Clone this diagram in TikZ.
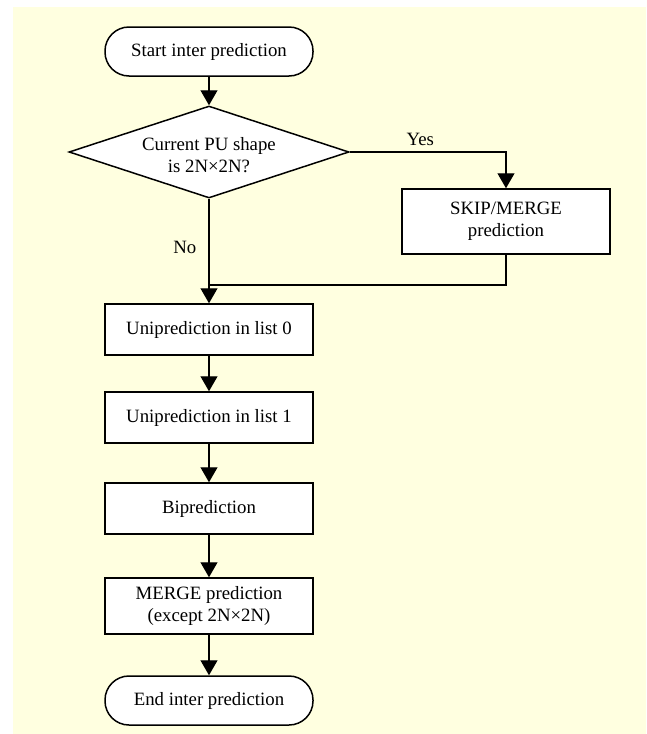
\documentclass[tikz,border=0pt]{standalone}
\usepackage{fontspec}
\setmainfont{Liberation Serif}
\usetikzlibrary{shapes.geometric,arrows.meta}
\definecolor{bgyellow}{RGB}{255,255,224}
\begin{document}
\begin{tikzpicture}[x=1pt,y=-1pt,
  txt/.style={font=\fontsize{18.8}{22}\selectfont, align=center},
  procbox/.style={txt, draw, fill=white, line width=1.5pt, rectangle, minimum width=208pt, inner sep=0pt},
  termbox/.style={procbox, rounded corners=24pt, minimum height=49pt},
  decbox/.style={draw, fill=white, line width=1.5pt, diamond, minimum width=280pt, minimum height=92pt, inner sep=0pt},
  conn/.style={line width=1.2pt},
  arr/.style={conn, -{Triangle[length=15pt,width=17pt]}},
  lbl/.style={txt, inner sep=0pt}
]
\fill[bgyellow] (13,7) rectangle (646,734);
\useasboundingbox (0,0) rectangle (646,734);

\node[termbox] (start) at (209,51.5) {Start inter prediction};
\node[decbox] (dia) at (209,152) {};
\node[lbl] (diatext) at (209,155) {Current PU shape\\is 2N×2N?};
\node[procbox, minimum height=65pt] (skip) at (506,221.5) {SKIP/MERGE\\prediction};
\coordinate (j) at (209,285);
\node[procbox, minimum height=51pt] (uni0) at (209,329.5) {Uniprediction in list 0};
\node[procbox, minimum height=51pt] (uni1) at (209,417.5) {Uniprediction in list 1};
\node[procbox, minimum height=51pt] (bi) at (209,508.5) {Biprediction};
\node[procbox, minimum height=56pt] (merge) at (209,606) {MERGE prediction\\(except 2N×2N)};
\node[termbox] (end) at (209,700.5) {End inter prediction};

\draw[arr] (start.south) -- (dia.north);
\draw[arr] (dia.east) -| (skip.north) node[lbl, pos=0.226, above=6pt, name=yes] {Yes};
\draw[conn] (skip.south) |- (j);
\draw[arr] (dia.south) -- node[lbl, pos=0.47, left=12pt, name=no] {No} (uni0.north);
\draw[arr] (uni0.south) -- (uni1.north);
\draw[arr] (uni1.south) -- (bi.north);
\draw[arr] (bi.south) -- (merge.north);
\draw[arr] (merge.south) -- (end.north);
\end{tikzpicture}
\end{document}
